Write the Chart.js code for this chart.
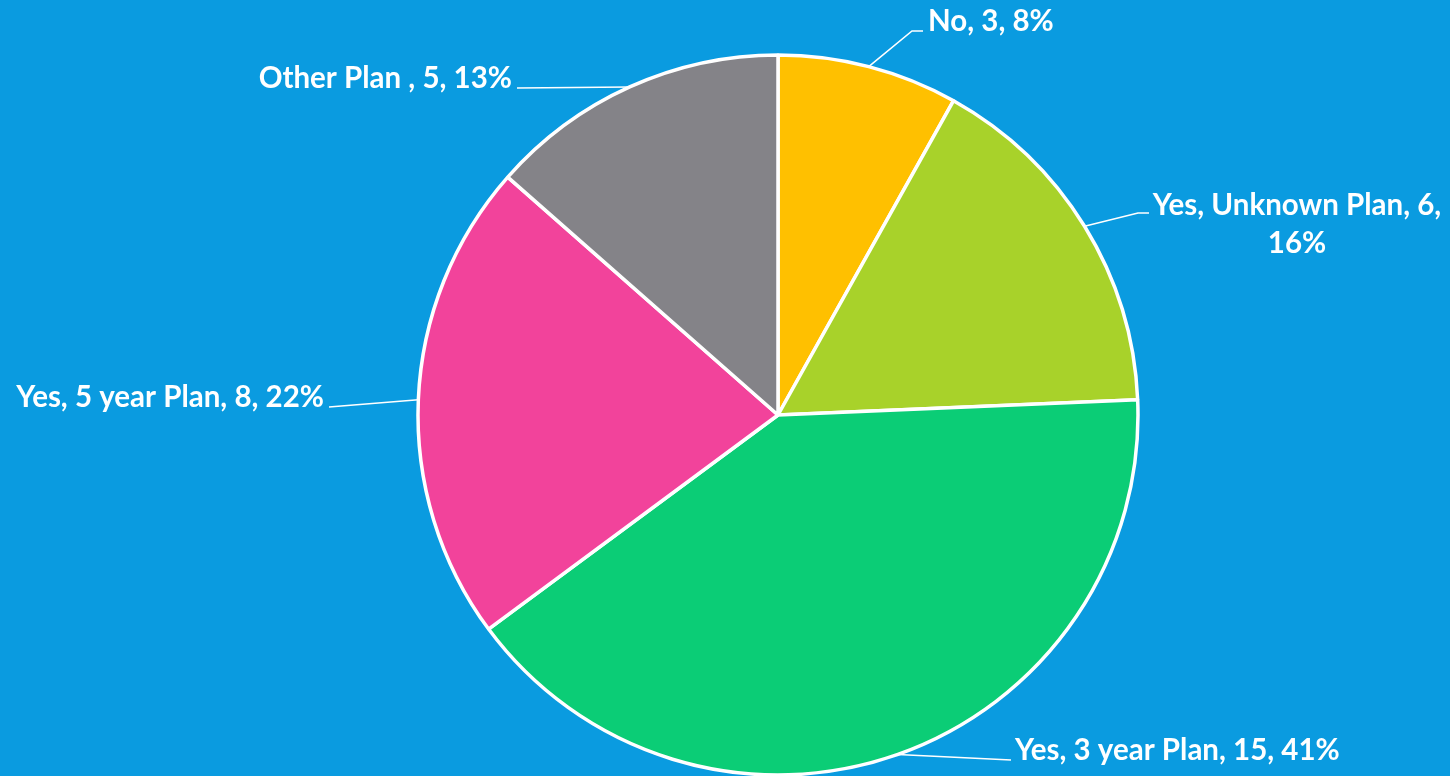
<!DOCTYPE html>
<html>
<head>
<meta charset="utf-8">
<script src="https://cdn.jsdelivr.net/npm/chart.js@4"></script>
<style>
  html, body { margin: 0; padding: 0; background: #0A9BE0; }
  #wrap { width: 1450px; height: 776px; position: relative; }
</style>
</head>
<body>
<div id="wrap"><canvas id="c" width="1450" height="776"></canvas></div>
<script>
const categories = ["No", "Yes, Unknown Plan", "Yes, 3 year Plan", "Yes, 5 year Plan", "Other Plan "];
const counts = [3, 6, 15, 8, 5];
const percentLabels = ["8%", "16%", "41%", "22%", "13%"];
const sliceColors = ["#FFC000", "#A8D22A", "#0BCD76", "#F2439B", "#848388"];

// label layout: text anchor, alignment, leader elbow points
const labelLayout = [
  { lines: null, x: 928, y: 21, align: "left", elbow: [[912, 31], [923, 31]] },
  { lines: "split", x: 1297, y: 205, align: "center", elbow: [[1138, 213], [1149, 213]] },
  { lines: null, x: 1015, y: 750, align: "left", elbow: [[1011, 760]] },
  { lines: null, x: 324, y: 397, align: "right", elbow: [[329, 407]] },
  { lines: null, x: 512, y: 78, align: "right", elbow: [[517, 88]] }
];

const labelPlugin = {
  id: "pieLabels",
  afterDatasetsDraw(chart) {
    const ctx = chart.ctx;
    const meta = chart.getDatasetMeta(0);
    ctx.save();
    ctx.fillStyle = "#FFFFFF";
    ctx.strokeStyle = "#FFFFFF";
    ctx.lineWidth = 1.6;
    ctx.font = "bold 29.5px Lato, 'Open Sans', sans-serif";
    ctx.textBaseline = "middle";
    meta.data.forEach((arc, i) => {
      const L = labelLayout[i];
      const mid = (arc.startAngle + arc.endAngle) / 2;
      const r = arc.outerRadius;
      const ex = arc.x + Math.cos(mid) * r;
      const ey = arc.y + Math.sin(mid) * r;
      ctx.beginPath();
      ctx.moveTo(ex, ey);
      L.elbow.forEach(p => ctx.lineTo(p[0], p[1]));
      ctx.stroke();
      ctx.textAlign = L.align;
      if (L.lines === "split") {
        ctx.fillText(categories[i] + ", " + counts[i] + ",", L.x, L.y);
        ctx.fillText(percentLabels[i], L.x, L.y + 38);
      } else {
        ctx.fillText(categories[i] + ", " + counts[i] + ", " + percentLabels[i], L.x, L.y);
      }
    });
    ctx.restore();
  }
};

new Chart(document.getElementById("c"), {
  type: "pie",
  data: {
    labels: categories,
    datasets: [{
      data: counts,
      backgroundColor: sliceColors,
      borderColor: "#FFFFFF",
      borderWidth: 3.5,
      radius: 360
    }]
  },
  options: {
    responsive: false,
    animation: false,
    layout: { padding: { left: 418, right: 312, top: 55, bottom: 1 } },
    plugins: { legend: { display: false }, tooltip: { enabled: false } }
  },
  plugins: [labelPlugin]
});
</script>
</body>
</html>
